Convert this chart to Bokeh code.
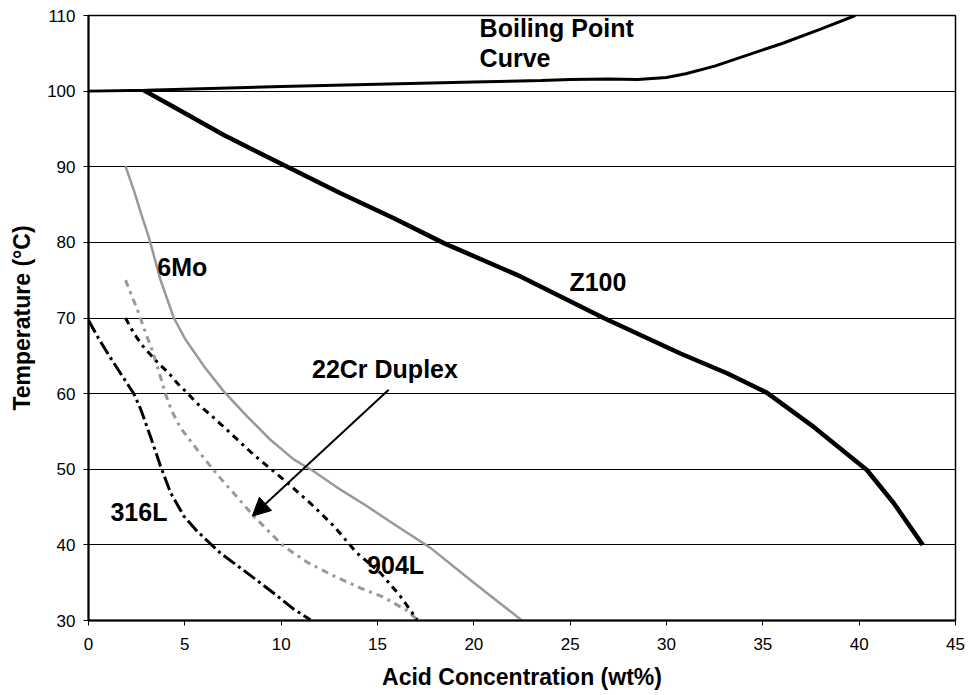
from bokeh.plotting import figure
from bokeh.models import Range1d, FixedTicker, Arrow, NormalHead, Label
from bokeh.embed import file_html
from bokeh.resources import INLINE

# Boiling point curve
bp_x = [0, 3, 10, 15, 20, 23.5, 25, 27, 28.5, 30, 31, 32.5, 34, 36, 38, 39.8]
bp_y = [100, 100.1, 100.6, 100.9, 101.2, 101.4, 101.55, 101.6, 101.55, 101.8, 102.3, 103.3, 104.6, 106.3, 108.2, 110]

# Z100
z_x = [2.87, 4.43, 7.02, 10.31, 13.08, 15.85, 18.44, 22.42, 26.74, 30.72, 33.14, 35.22, 37.64, 40.4, 41.8, 43.3]
z_y = [100.1, 97.9, 94.2, 90.0, 86.5, 83.2, 79.9, 75.5, 70.0, 65.3, 62.7, 60.1, 55.6, 49.9, 45.5, 40.0]

# 6Mo
mo_x = [1.92, 2.35, 2.78, 3.13, 3.74, 4.43, 5.0, 6.0, 7.02, 8.23, 9.44, 10.65, 11.7, 13.08, 14.46, 16.0, 17.75, 20.0, 22.5]
mo_y = [90.07, 86.9, 83.4, 80.7, 75.0, 70.0, 67.3, 63.6, 60.3, 57.0, 53.9, 51.3, 49.7, 47.3, 45.1, 42.5, 39.6, 35.0, 30.0]

# 22Cr Duplex
dx_x = [1.92, 2.27, 2.61, 3.04, 3.3, 3.74, 4.0, 4.34, 4.77, 5.64, 6.68, 7.72, 8.58, 9.27, 10.14, 11.35, 12.73, 14.1, 15.3, 16.54, 17.06]
dx_y = [75.0, 72.8, 70.6, 67.5, 65.8, 62.2, 59.9, 57.6, 55.5, 52.6, 49.3, 46.3, 43.8, 42.0, 39.8, 37.7, 35.9, 34.3, 33.1, 31.3, 30.1]

# 904L
l9_x = [1.92, 2.35, 2.78, 3.56, 4.17, 4.6, 5.12, 5.64, 6.33, 7.02, 8.58, 10.14, 11.52, 12.73, 13.94, 15.15, 16.19, 17.06]
l9_y = [70.0, 68.0, 66.4, 64.2, 62.7, 61.4, 60.1, 58.7, 57.2, 55.6, 51.9, 48.6, 45.5, 42.5, 38.9, 36.3, 33.2, 30.1]

# 316L
l3_x = [0, 0.52, 1.05, 1.66, 2.35, 2.7, 3.22, 3.74, 4.26, 4.95, 5.64, 6.85, 8.23, 9.62, 10.65, 11.52]
l3_y = [69.7, 67.3, 65.1, 62.7, 60.0, 58.0, 54.3, 50.4, 46.9, 43.8, 41.8, 38.9, 36.3, 33.6, 31.5, 30.1]

x_ticks = [0, 5, 10, 15, 20, 25, 30, 35, 40, 45]
y_ticks = [30, 40, 50, 60, 70, 80, 90, 100, 110]

p = figure(width=965, height=692, output_backend="svg", toolbar_location=None,
           x_range=Range1d(0, 45), y_range=Range1d(30, 110),
           min_border_left=88, min_border_right=10, min_border_top=15, min_border_bottom=71)
p.background_fill_color = "white"
p.border_fill_color = "white"
p.outline_line_color = "black"
p.outline_line_width = 1.5

p.xgrid.grid_line_color = None
p.ygrid.grid_line_color = "black"
p.ygrid.grid_line_width = 1

for ax in (p.xaxis[0], p.yaxis[0]):
    ax.axis_line_color = "black"
    ax.axis_line_width = 2
    ax.major_tick_line_color = "black"
    ax.major_tick_line_width = 1
    ax.major_tick_in = 0
    ax.major_tick_out = 5
    ax.minor_tick_line_color = None
    ax.major_label_text_font = "Liberation Sans"
    ax.major_label_text_font_size = "17px"
    ax.major_label_text_color = "black"
    ax.axis_label_text_font = "Liberation Sans"
    ax.axis_label_text_font_style = "bold"
    ax.axis_label_text_font_size = "23px"
    ax.axis_label_text_color = "black"

p.xaxis[0].ticker = FixedTicker(ticks=x_ticks)
p.yaxis[0].ticker = FixedTicker(ticks=y_ticks)
p.xaxis[0].axis_label = "Acid Concentration (wt%)"
p.yaxis[0].axis_label = "Temperature (°C)"
p.xaxis[0].major_label_standoff = 12
p.xaxis[0].axis_label_standoff = 11
p.yaxis[0].major_label_standoff = 8
p.yaxis[0].axis_label_standoff = 9

p.line(bp_x, bp_y, line_color="black", line_width=3)
p.line(z_x, z_y, line_color="black", line_width=4.5)
p.line(mo_x, mo_y, line_color="#999999", line_width=2.5)
p.line(dx_x, dx_y, line_color="#999999", line_width=3, line_dash="7 5 3 5")
p.line(l9_x, l9_y, line_color="black", line_width=3, line_dash="7 5 3 5")
p.line(l3_x, l3_y, line_color="black", line_width=3, line_dash="14 4 3 4")

labels = [
    ("Boiling Point", 20.3, 108.3),
    ("Curve", 20.3, 104.4),
    ("Z100", 24.96, 74.8),
    ("6Mo", 3.57, 76.7),
    ("22Cr Duplex", 11.6, 63.2),
    ("316L", 1.14, 44.3),
    ("904L", 14.46, 37.3),
]
for t, x, y in labels:
    p.add_layout(Label(x=x, y=y, text=t, text_font="Liberation Sans", text_font_style="bold",
                       text_font_size="25px", text_color="black", text_align="left",
                       text_baseline="middle"))

p.add_layout(Arrow(end=NormalHead(size=18, fill_color="black", line_color="black"),
                   x_start=15.58, y_start=60.5, x_end=8.5, y_end=43.8,
                   line_color="black", line_width=2))

open("out.html", "w").write(file_html(p, INLINE))
